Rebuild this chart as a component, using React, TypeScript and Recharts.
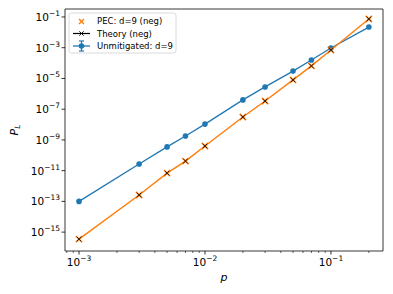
import React from 'react';
import { LineChart, Line, XAxis, YAxis, ReferenceArea } from 'recharts';

const pValues = [0.001, 0.003, 0.005, 0.007, 0.01, 0.02, 0.03, 0.05, 0.07, 0.1, 0.2];
const unmitigated = [1e-13, 2.7e-11, 3.5e-10, 1.8e-9, 1.07e-8, 4e-7, 2.8e-6, 3e-5, 1.6e-4, 9.5e-4, 2.2e-2];
const pecNeg = [3.5e-16, 2.6e-13, 6.9e-12, 4.2e-11, 4e-10, 3.1e-8, 3.4e-7, 8e-6, 6.5e-5, 7.1e-4, 7.4e-2];
const theoryNeg = [3.5e-16, 2.6e-13, 6.9e-12, 4.2e-11, 4e-10, 3.1e-8, 3.4e-7, 8e-6, 6.5e-5, 7.1e-4, 7.4e-2];

const xTicks = [0.0008, 0.0009, 0.001, 0.002, 0.003, 0.004, 0.005, 0.006, 0.007, 0.008, 0.009, 0.01,
  0.02, 0.03, 0.04, 0.05, 0.06, 0.07, 0.08, 0.09, 0.1, 0.2];
const yTicks = [1e-15, 1e-13, 1e-11, 1e-9, 1e-7, 1e-5, 1e-3, 1e-1];
const xDomain = [0.000774, 0.259];
const yDomain = [5.9e-17, 0.33];

const legendLabels = ['PEC: d=9 (neg)', 'Theory (neg)', 'Unmitigated: d=9'];

const BLUE = '#1f77b4';
const ORANGE = '#ff7f0e';
const FONT = "'DejaVu Sans', sans-serif";

const rows = pValues.map((p, i) => ({ p, unmit: unmitigated[i], pec: pecNeg[i], theory: theoryNeg[i] }));

const isMajor = (v: number) => {
  const l = Math.log10(v);
  return Math.abs(l - Math.round(l)) < 1e-6;
};
const expOf = (v: number) => Math.round(Math.log10(v));

const XTick = (props: any) => {
  const { x, y, payload } = props;
  const v = payload.value;
  const major = isMajor(v);
  return (
    <g>
      <line x1={x} x2={x} y1={y} y2={y + (major ? 3.5 : 2)} stroke="#000" strokeWidth={major ? 0.8 : 0.6} />
      {major && (
        <text x={x} y={y + 15} textAnchor="middle" fontFamily={FONT} fontSize={10.5} fill="#000">
          <tspan>10</tspan>
          <tspan dy={-5} fontSize={7.5}>{'\u2212' + Math.abs(expOf(v))}</tspan>
        </text>
      )}
    </g>
  );
};

const YTick = (props: any) => {
  const { x, y, payload } = props;
  const v = payload.value;
  return (
    <g>
      <line x1={x - 3.5} x2={x} y1={y} y2={y} stroke="#000" strokeWidth={0.8} />
      <text x={x - 5} y={y + 4} textAnchor="end" fontFamily={FONT} fontSize={10.5} fill="#000">
        <tspan>10</tspan>
        <tspan dy={-5} fontSize={7.5}>{'\u2212' + Math.abs(expOf(v))}</tspan>
      </text>
    </g>
  );
};

const makeX = (color: string, half: number, sw: number) => (props: any) => {
  const { cx, cy, index } = props;
  if (cx == null || cy == null) return <g key={'n' + index} />;
  return (
    <g key={'x' + color + index}>
      <line x1={cx - half} y1={cy - half} x2={cx + half} y2={cy + half} stroke={color} strokeWidth={sw} />
      <line x1={cx - half} y1={cy + half} x2={cx + half} y2={cy - half} stroke={color} strokeWidth={sw} />
    </g>
  );
};

const orangeX = makeX(ORANGE, 3.1, 1.6);
const blackX = makeX('#000', 2.3, 0.8);

export default function App() {
  return (
    <div style={{ position: 'absolute', left: 0, top: 0, width: 393, height: 294, background: '#fff' }}>
      <LineChart width={393} height={294} data={rows} margin={{ top: 9, right: 10, bottom: 13, left: 15 }}>
        <XAxis
          dataKey="p"
          type="number"
          scale="log"
          domain={xDomain}
          allowDataOverflow
          ticks={xTicks}
          interval={0}
          tickSize={0}
          tickMargin={0}
          tickLine={false}
          axisLine={false}
          tick={<XTick />}
          height={30}
        />
        <YAxis
          type="number"
          scale="log"
          domain={yDomain}
          allowDataOverflow
          ticks={yTicks}
          interval={0}
          tickSize={0}
          tickMargin={0}
          tickLine={false}
          axisLine={false}
          tick={<YTick />}
          width={50}
        />
        <Line dataKey="unmit" stroke={BLUE} strokeWidth={1.3}
          dot={{ r: 2.8, fill: BLUE, stroke: BLUE, strokeWidth: 0 }} isAnimationActive={false} />
        <Line dataKey="theory" stroke={ORANGE} strokeWidth={1.5} dot={orangeX} isAnimationActive={false} />
        <Line dataKey="pec" stroke="none" dot={blackX} isAnimationActive={false} />
        <ReferenceArea x1={xDomain[0]} x2={xDomain[1]} y1={yDomain[0]} y2={yDomain[1]}
          fill="none" stroke="#222" strokeWidth={0.9} ifOverflow="visible" />
      </LineChart>
      <svg width={393} height={294} style={{ position: 'absolute', left: 0, top: 0, pointerEvents: 'none' }}>
        <rect x={69} y={13} width={107} height={40} rx={2.5} fill="rgba(255,255,255,0.8)" stroke="#d0d0d0" strokeWidth={0.8} />
        {/* row 1 */}
        <line x1={79} y1={19} x2={84} y2={24} stroke={ORANGE} strokeWidth={1.4} />
        <line x1={79} y1={24} x2={84} y2={19} stroke={ORANGE} strokeWidth={1.4} />
        <text x={97} y={24} fontFamily={FONT} fontSize={8.5} fill="#000">{legendLabels[0]}</text>
        {/* row 2 */}
        <line x1={73} y1={33.5} x2={90} y2={33.5} stroke="#000" strokeWidth={1.2} />
        <line x1={79.3} y1={31.3} x2={83.7} y2={35.7} stroke="#000" strokeWidth={0.9} />
        <line x1={79.3} y1={35.7} x2={83.7} y2={31.3} stroke="#000" strokeWidth={0.9} />
        <text x={97} y={36.5} fontFamily={FONT} fontSize={8.5} fill="#000">{legendLabels[1]}</text>
        {/* row 3 */}
        <line x1={73} y1={46} x2={90} y2={46} stroke={BLUE} strokeWidth={1.3} />
        <line x1={81.5} y1={41} x2={81.5} y2={51} stroke={BLUE} strokeWidth={1.2} />
        <line x1={79} y1={41} x2={84} y2={41} stroke={BLUE} strokeWidth={1.2} />
        <line x1={79} y1={51} x2={84} y2={51} stroke={BLUE} strokeWidth={1.2} />
        <circle cx={81.5} cy={46} r={2.8} fill={BLUE} />
        <text x={97} y={49} fontFamily={FONT} fontSize={8.5} fill="#000">{legendLabels[2]}</text>
        {/* axis titles */}
        <text x={224} y={281} textAnchor="middle" fontFamily={FONT} fontStyle="italic" fontSize={11} fill="#000">p</text>
        <text transform="translate(18,130) rotate(-90)" textAnchor="middle" fontFamily={FONT} fontSize={11} fill="#000">
          <tspan fontStyle="italic">P</tspan>
          <tspan fontStyle="italic" fontSize={7.5} dy={2}>L</tspan>
        </text>
      </svg>
    </div>
  );
}
